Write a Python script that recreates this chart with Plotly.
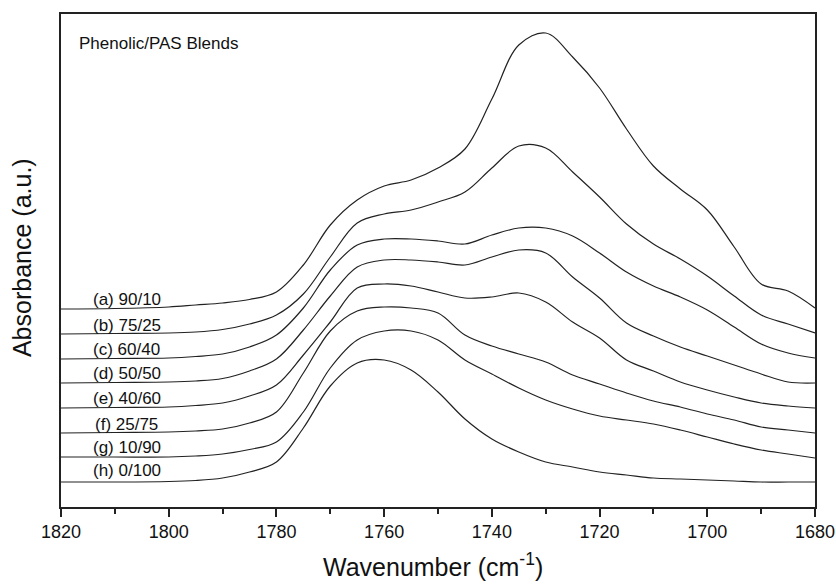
import plotly.graph_objects as go

wavenumber = [1820, 1810, 1800, 1795, 1790, 1785, 1780, 1775, 1770, 1765, 1760, 1755, 1750, 1745,
              1740, 1735, 1730, 1725, 1720, 1715, 1710, 1705, 1700, 1695, 1690, 1685, 1680]

abs_a = [198, 198.5, 200, 202, 204, 207.5, 215, 242, 282, 307, 321, 327, 339, 358, 408, 462, 474, 450, 419, 378, 341, 318, 297, 260, 223, 216, 199]
abs_b = [173, 173.5, 174, 175, 177.5, 183, 192, 213, 250, 284, 293, 297, 305, 315, 339, 361, 359, 335, 310, 283, 263, 248, 231, 211, 192, 183, 174]
abs_c = [148, 148.5, 149, 150.5, 153, 160, 172, 199, 237, 262, 268, 268, 266, 263, 272, 279, 279, 271, 254, 235, 221, 210, 197, 180, 163, 154, 149]
abs_d = [124, 124.5, 125, 126, 128.5, 136, 148, 177, 211, 240, 247, 247, 245, 242, 250, 257, 254, 230, 209, 184, 171, 160, 151, 142, 133, 125, 124]
abs_e = [99, 99.5, 100, 101.5, 104, 111, 122, 152, 185, 219, 223, 221, 215, 209, 210, 214, 205, 185, 169, 147, 136, 125, 117, 110, 104, 101, 99]
abs_f = [74, 74.5, 75, 76, 78, 84, 95, 134, 176, 196, 200, 199, 194, 172, 161, 153, 145, 132, 123, 114, 106, 100, 93, 87, 80, 77, 74]
abs_g = [50, 50, 50, 51, 53, 57.5, 65, 95, 139, 167, 176, 176, 167, 147, 133, 119, 107, 98, 91, 87, 83, 77, 70, 63, 57, 53, 49]
abs_h = [25, 25, 25.5, 26.5, 29, 35, 45, 79, 121, 144, 147, 137, 115, 88, 68, 55, 45, 40, 35, 32, 29, 28, 27, 26, 25, 25, 25]

series = [abs_a, abs_b, abs_c, abs_d, abs_e, abs_f, abs_g, abs_h]
labels = ["(a) 90/10", "(b) 75/25", "(c) 60/40", "(d) 50/50",
          "(e) 40/60", "(f) 25/75", "(g) 10/90", "(h) 0/100"]
label_y = [208, 182, 158, 134, 109, 83, 60, 37]

FONT = "Liberation Sans, Arial, Helvetica, sans-serif"

fig = go.Figure()
for ys, name in zip(series, labels):
    fig.add_trace(go.Scatter(x=wavenumber, y=ys, mode="lines", name=name,
                             line=dict(color="#222222", width=1.2, shape="spline", smoothing=1.0),
                             showlegend=False, hoverinfo="skip"))

annotations = []
for name, yv in zip(labels, label_y):
    annotations.append(dict(x=1807.75, y=yv, xref="x", yref="y", text=name, showarrow=False,
                            xanchor="center", yanchor="middle",
                            font=dict(family=FONT, size=17, color="#111111")))
annotations.append(dict(x=1817.0, y=464, xref="x", yref="y", text="Phenolic/PAS Blends",
                        showarrow=False, xanchor="left", yanchor="middle",
                        font=dict(family=FONT, size=17, color="#111111")))
annotations.append(dict(x=0.493, y=-0.1176, xref="paper", yref="paper",
                        text="Wavenumber (cm<sup>-1</sup>)", showarrow=False,
                        xanchor="center", yanchor="middle",
                        font=dict(family=FONT, size=25, color="#111111")))
annotations.append(dict(x=-0.0517, y=0.505, xref="paper", yref="paper",
                        text="Absorbance (a.u.)", showarrow=False, textangle=-90,
                        xanchor="center", yanchor="middle",
                        font=dict(family=FONT, size=25, color="#111111")))

fig.update_layout(
    width=836, height=588,
    margin=dict(l=61, r=21, t=14, b=81, autoexpand=False),
    paper_bgcolor="white", plot_bgcolor="white",
    annotations=annotations,
    xaxis=dict(range=[1820, 1680], dtick=20, tick0=1680, ticks="outside", ticklen=8, tickwidth=1.5,
               tickcolor="#222222", showline=True, linecolor="#222222", linewidth=1.5, mirror=True,
               showgrid=False, zeroline=False, automargin=False,
               tickfont=dict(family=FONT, size=18, color="#111111"),
               minor=dict(dtick=10, tick0=1680, ticks="outside", ticklen=5, tickwidth=1.5,
                          tickcolor="#222222", showgrid=False)),
    yaxis=dict(range=[0, 493], showticklabels=False, ticks="", showline=True, linecolor="#222222",
               linewidth=1.5, mirror=True, showgrid=False, zeroline=False, automargin=False),
)

fig.write_html("out.html")
